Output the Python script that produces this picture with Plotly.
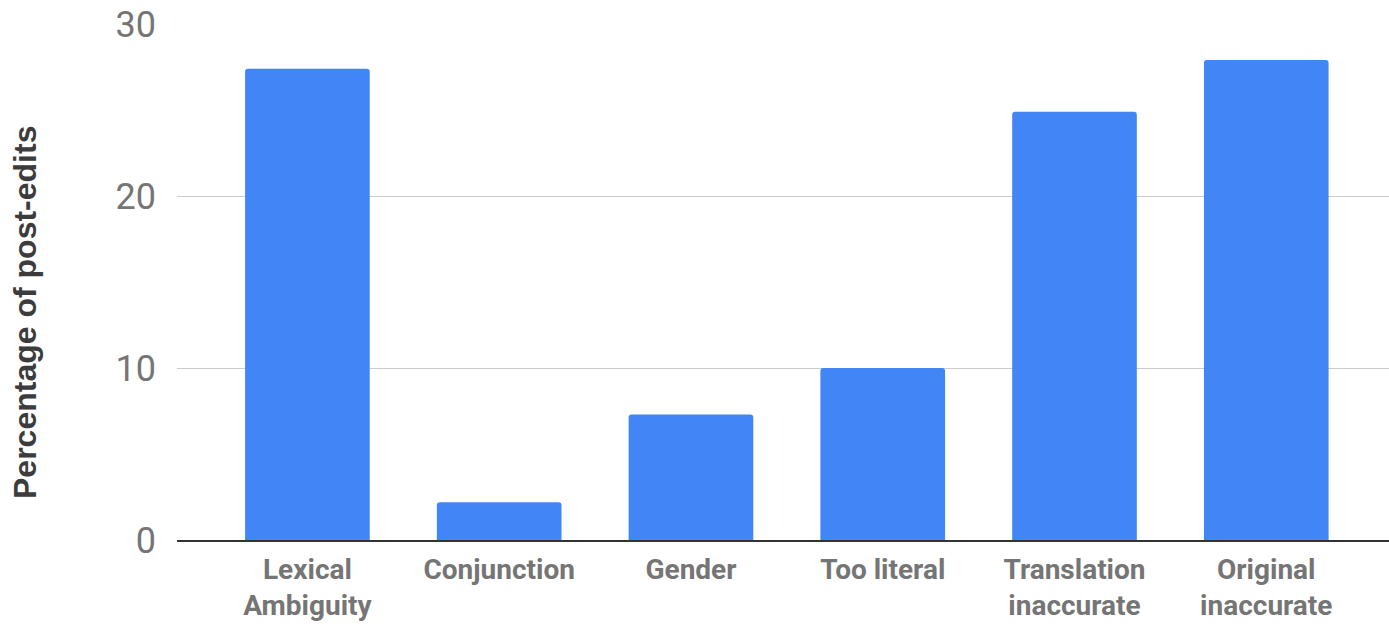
import plotly.graph_objects as go

categories = ["Lexical<br>Ambiguity", "Conjunction", "Gender", "Too literal",
              "Translation<br>inaccurate", "Original<br>inaccurate"]
percentages = [27.4, 2.2, 7.3, 10.0, 24.9, 27.9]
y_ticks = [0, 10, 20, 30]
y_title = "Percentage of post-edits"

fig = go.Figure(
    go.Bar(
        x=list(range(len(categories))),
        y=percentages,
        marker=dict(color="#4285f4", line=dict(width=0), cornerradius=3),
        width=0.65,
    )
)

fig.update_layout(
    width=1389,
    height=624,
    margin=dict(l=177, r=0, t=24, b=84),
    paper_bgcolor="white",
    plot_bgcolor="white",
    showlegend=False,
    font=dict(family="Roboto", color="#757575"),
)

fig.update_xaxes(
    tickmode="array",
    tickvals=list(range(len(categories))),
    ticktext=[f"<b>{c}</b>" for c in categories],
    tickfont=dict(size=28, color="#757575", family="Roboto"),
    range=[-0.68, 5.64],
    showgrid=False,
    showline=True,
    linecolor="#333333",
    linewidth=2,
    ticks="",
    ticklabelstandoff=3,
    automargin=False,
)

fig.update_yaxes(
    range=[0, 30],
    tickvals=y_ticks,
    tickfont=dict(size=36, color="#757575", family="Roboto"),
    showgrid=True,
    gridcolor="#cccccc",
    gridwidth=1,
    zeroline=False,
    showline=False,
    ticks="",
    ticklabelstandoff=20,
    automargin=False,
)

# Vertical axis title, centred on the full figure height
fig.add_annotation(
    text=f"<b>{y_title}</b>",
    xref="paper", yref="paper",
    x=-0.1254, y=0.44,
    xanchor="center", yanchor="middle",
    textangle=-90,
    showarrow=False,
    font=dict(size=32, color="#3c3c3c", family="Liberation Sans"),
)

fig.write_html("out.html")
